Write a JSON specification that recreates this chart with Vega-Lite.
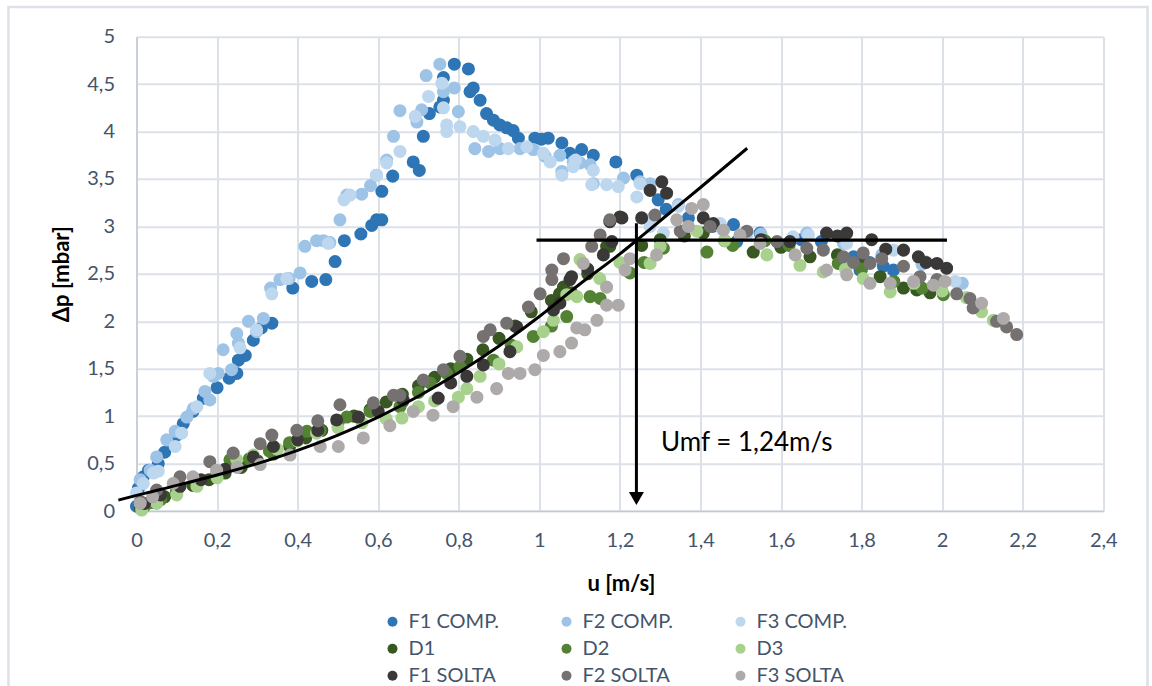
{
  "$schema": "https://vega.github.io/schema/vega-lite/v6.json",
  "width": 966.8,
  "height": 474.3,
  "autosize": {"type": "none"},
  "padding": {"left": 136.5, "top": 36.7, "right": 48.7, "bottom": 175},
  "background": "white",
  "config": {
    "view": {"stroke": null},
    "font": "Lato",
    "axis": {"labelFont": "Lato", "titleFont": "Lato"}
  },
  "datasets": {
    "one": [{}],
    "curve": [
      {"u": -0.045, "p": 0.115}, {"u": 0, "p": 0.165}, {"u": 0.1, "p": 0.27}, {"u": 0.2, "p": 0.38},
      {"u": 0.3, "p": 0.5}, {"u": 0.4, "p": 0.64}, {"u": 0.5, "p": 0.8}, {"u": 0.6, "p": 0.99},
      {"u": 0.7, "p": 1.21}, {"u": 0.8, "p": 1.46}, {"u": 0.9, "p": 1.74}, {"u": 1.0, "p": 2.05},
      {"u": 1.1, "p": 2.39}, {"u": 1.2, "p": 2.71}, {"u": 1.242, "p": 2.855}, {"u": 1.3, "p": 3.06},
      {"u": 1.4, "p": 3.41}, {"u": 1.516, "p": 3.824}
    ],
    "pts": [
      {"s":"F1 COMP.","u":0.0,"p":0.05},{"s":"F1 COMP.","u":0.005,"p":0.24},{"s":"F1 COMP.","u":0.017,"p":0.36},{"s":"F1 COMP.","u":0.03,"p":0.43},{"s":"F1 COMP.","u":0.054,"p":0.5},{"s":"F1 COMP.","u":0.07,"p":0.62},{"s":"F1 COMP.","u":0.087,"p":0.71},{"s":"F1 COMP.","u":0.1,"p":0.8},{"s":"F1 COMP.","u":0.116,"p":0.92},{"s":"F1 COMP.","u":0.14,"p":1.05},{"s":"F1 COMP.","u":0.166,"p":1.19},{"s":"F1 COMP.","u":0.2,"p":1.3},{"s":"F1 COMP.","u":0.23,"p":1.4},{"s":"F1 COMP.","u":0.249,"p":1.45},{"s":"F1 COMP.","u":0.253,"p":1.59},{"s":"F1 COMP.","u":0.27,"p":1.64},{"s":"F1 COMP.","u":0.29,"p":1.8},{"s":"F1 COMP.","u":0.31,"p":1.93},{"s":"F1 COMP.","u":0.336,"p":1.98},{"s":"F1 COMP.","u":0.388,"p":2.35},{"s":"F1 COMP.","u":0.435,"p":2.42},{"s":"F1 COMP.","u":0.47,"p":2.44},{"s":"F1 COMP.","u":0.493,"p":2.63},{"s":"F1 COMP.","u":0.516,"p":2.85},{"s":"F1 COMP.","u":0.557,"p":2.92},{"s":"F1 COMP.","u":0.584,"p":3.01},{"s":"F1 COMP.","u":0.596,"p":3.07},{"s":"F1 COMP.","u":0.609,"p":3.07},{"s":"F1 COMP.","u":0.609,"p":3.37},{"s":"F1 COMP.","u":0.636,"p":3.53},{"s":"F1 COMP.","u":0.687,"p":3.68},{"s":"F1 COMP.","u":0.702,"p":3.59},{"s":"F1 COMP.","u":0.712,"p":3.95},{"s":"F1 COMP.","u":0.727,"p":4.19},{"s":"F1 COMP.","u":0.753,"p":4.26},{"s":"F1 COMP.","u":0.762,"p":4.33},{"s":"F1 COMP.","u":0.762,"p":4.57},{"s":"F1 COMP.","u":0.789,"p":4.71},{"s":"F1 COMP.","u":0.824,"p":4.66},{"s":"F1 COMP.","u":0.828,"p":4.42},{"s":"F1 COMP.","u":0.836,"p":4.46},{"s":"F1 COMP.","u":0.853,"p":4.33},{"s":"F1 COMP.","u":0.869,"p":4.19},{"s":"F1 COMP.","u":0.886,"p":4.12},{"s":"F1 COMP.","u":0.902,"p":4.07},{"s":"F1 COMP.","u":0.919,"p":4.04},{"s":"F1 COMP.","u":0.935,"p":4.01},{"s":"F1 COMP.","u":0.948,"p":3.93},{"s":"F1 COMP.","u":0.989,"p":3.93},{"s":"F1 COMP.","u":1.005,"p":3.92},{"s":"F1 COMP.","u":1.022,"p":3.93},{"s":"F1 COMP.","u":1.056,"p":3.88},{"s":"F1 COMP.","u":1.076,"p":3.77},{"s":"F1 COMP.","u":1.105,"p":3.81},{"s":"F1 COMP.","u":1.134,"p":3.75},{"s":"F1 COMP.","u":1.19,"p":3.68},{"s":"F1 COMP.","u":1.242,"p":3.54},{"s":"F1 COMP.","u":1.295,"p":3.28},{"s":"F1 COMP.","u":1.315,"p":3.18},{"s":"F1 COMP.","u":1.37,"p":3.09},{"s":"F1 COMP.","u":1.43,"p":3.0},{"s":"F1 COMP.","u":1.482,"p":3.02},{"s":"F1 COMP.","u":1.49,"p":2.84},{"s":"F1 COMP.","u":1.548,"p":2.93},{"s":"F1 COMP.","u":1.598,"p":2.8},{"s":"F1 COMP.","u":1.65,"p":2.86},{"s":"F1 COMP.","u":1.7,"p":2.84},{"s":"F1 COMP.","u":1.78,"p":2.68},{"s":"F1 COMP.","u":1.796,"p":2.54},{"s":"F1 COMP.","u":1.82,"p":2.62},{"s":"F1 COMP.","u":1.854,"p":2.58},{"s":"F1 COMP.","u":1.879,"p":2.54},
      {"s":"F2 COMP.","u":0.009,"p":0.33},{"s":"F2 COMP.","u":0.034,"p":0.43},{"s":"F2 COMP.","u":0.05,"p":0.57},{"s":"F2 COMP.","u":0.075,"p":0.75},{"s":"F2 COMP.","u":0.096,"p":0.84},{"s":"F2 COMP.","u":0.125,"p":0.99},{"s":"F2 COMP.","u":0.141,"p":1.08},{"s":"F2 COMP.","u":0.17,"p":1.26},{"s":"F2 COMP.","u":0.182,"p":1.17},{"s":"F2 COMP.","u":0.191,"p":1.42},{"s":"F2 COMP.","u":0.203,"p":1.45},{"s":"F2 COMP.","u":0.215,"p":1.7},{"s":"F2 COMP.","u":0.236,"p":1.49},{"s":"F2 COMP.","u":0.249,"p":1.87},{"s":"F2 COMP.","u":0.253,"p":1.77},{"s":"F2 COMP.","u":0.278,"p":2.0},{"s":"F2 COMP.","u":0.298,"p":1.89},{"s":"F2 COMP.","u":0.315,"p":2.03},{"s":"F2 COMP.","u":0.333,"p":2.35},{"s":"F2 COMP.","u":0.356,"p":2.44},{"s":"F2 COMP.","u":0.379,"p":2.45},{"s":"F2 COMP.","u":0.406,"p":2.51},{"s":"F2 COMP.","u":0.418,"p":2.79},{"s":"F2 COMP.","u":0.447,"p":2.85},{"s":"F2 COMP.","u":0.464,"p":2.85},{"s":"F2 COMP.","u":0.48,"p":2.83},{"s":"F2 COMP.","u":0.505,"p":3.07},{"s":"F2 COMP.","u":0.522,"p":3.33},{"s":"F2 COMP.","u":0.559,"p":3.34},{"s":"F2 COMP.","u":0.581,"p":3.43},{"s":"F2 COMP.","u":0.596,"p":3.54},{"s":"F2 COMP.","u":0.621,"p":3.7},{"s":"F2 COMP.","u":0.638,"p":3.95},{"s":"F2 COMP.","u":0.654,"p":4.22},{"s":"F2 COMP.","u":0.696,"p":4.1},{"s":"F2 COMP.","u":0.708,"p":4.23},{"s":"F2 COMP.","u":0.719,"p":4.59},{"s":"F2 COMP.","u":0.753,"p":4.71},{"s":"F2 COMP.","u":0.762,"p":4.42},{"s":"F2 COMP.","u":0.789,"p":4.46},{"s":"F2 COMP.","u":0.799,"p":4.21},{"s":"F2 COMP.","u":0.84,"p":3.82},{"s":"F2 COMP.","u":0.874,"p":3.79},{"s":"F2 COMP.","u":0.902,"p":3.82},{"s":"F2 COMP.","u":0.952,"p":3.82},{"s":"F2 COMP.","u":0.985,"p":3.81},{"s":"F2 COMP.","u":1.014,"p":3.74},{"s":"F2 COMP.","u":1.051,"p":3.75},{"s":"F2 COMP.","u":1.056,"p":3.58},{"s":"F2 COMP.","u":1.084,"p":3.68},{"s":"F2 COMP.","u":1.101,"p":3.67},{"s":"F2 COMP.","u":1.126,"p":3.65},{"s":"F2 COMP.","u":1.134,"p":3.45},{"s":"F2 COMP.","u":1.209,"p":3.51},{"s":"F2 COMP.","u":1.25,"p":3.47},{"s":"F2 COMP.","u":1.275,"p":3.45},{"s":"F2 COMP.","u":1.345,"p":3.23},{"s":"F2 COMP.","u":1.45,"p":3.0},{"s":"F2 COMP.","u":1.55,"p":2.92},{"s":"F2 COMP.","u":1.664,"p":2.93},{"s":"F2 COMP.","u":1.755,"p":2.82},{"s":"F2 COMP.","u":1.85,"p":2.7},{"s":"F2 COMP.","u":1.95,"p":2.6},{"s":"F2 COMP.","u":2.05,"p":2.4},
      {"s":"F3 COMP.","u":0.0,"p":0.19},{"s":"F3 COMP.","u":0.017,"p":0.29},{"s":"F3 COMP.","u":0.042,"p":0.4},{"s":"F3 COMP.","u":0.054,"p":0.42},{"s":"F3 COMP.","u":0.096,"p":0.68},{"s":"F3 COMP.","u":0.112,"p":0.82},{"s":"F3 COMP.","u":0.15,"p":1.1},{"s":"F3 COMP.","u":0.182,"p":1.45},{"s":"F3 COMP.","u":0.257,"p":1.72},{"s":"F3 COMP.","u":0.298,"p":1.91},{"s":"F3 COMP.","u":0.336,"p":2.29},{"s":"F3 COMP.","u":0.373,"p":2.45},{"s":"F3 COMP.","u":0.476,"p":2.82},{"s":"F3 COMP.","u":0.515,"p":3.28},{"s":"F3 COMP.","u":0.53,"p":3.33},{"s":"F3 COMP.","u":0.596,"p":3.54},{"s":"F3 COMP.","u":0.621,"p":3.67},{"s":"F3 COMP.","u":0.654,"p":3.79},{"s":"F3 COMP.","u":0.692,"p":4.16},{"s":"F3 COMP.","u":0.725,"p":4.37},{"s":"F3 COMP.","u":0.758,"p":4.51},{"s":"F3 COMP.","u":0.762,"p":4.25},{"s":"F3 COMP.","u":0.77,"p":4.07},{"s":"F3 COMP.","u":0.77,"p":4.0},{"s":"F3 COMP.","u":0.803,"p":4.05},{"s":"F3 COMP.","u":0.836,"p":4.0},{"s":"F3 COMP.","u":0.861,"p":3.95},{"s":"F3 COMP.","u":0.89,"p":3.91},{"s":"F3 COMP.","u":0.923,"p":3.82},{"s":"F3 COMP.","u":0.969,"p":3.84},{"s":"F3 COMP.","u":1.01,"p":3.77},{"s":"F3 COMP.","u":1.027,"p":3.68},{"s":"F3 COMP.","u":1.056,"p":3.54},{"s":"F3 COMP.","u":1.084,"p":3.63},{"s":"F3 COMP.","u":1.09,"p":3.7},{"s":"F3 COMP.","u":1.13,"p":3.44},{"s":"F3 COMP.","u":1.134,"p":3.59},{"s":"F3 COMP.","u":1.167,"p":3.44},{"s":"F3 COMP.","u":1.196,"p":3.42},{"s":"F3 COMP.","u":1.242,"p":3.31},{"s":"F3 COMP.","u":1.25,"p":3.45},{"s":"F3 COMP.","u":1.271,"p":3.07},{"s":"F3 COMP.","u":1.275,"p":3.0},{"s":"F3 COMP.","u":1.308,"p":2.93},{"s":"F3 COMP.","u":1.345,"p":3.21},{"s":"F3 COMP.","u":1.449,"p":3.03},{"s":"F3 COMP.","u":1.515,"p":2.91},{"s":"F3 COMP.","u":1.63,"p":2.89},{"s":"F3 COMP.","u":1.668,"p":2.91},{"s":"F3 COMP.","u":1.763,"p":2.82},{"s":"F3 COMP.","u":1.879,"p":2.75},{"s":"F3 COMP.","u":1.958,"p":2.63},{"s":"F3 COMP.","u":2.032,"p":2.42},
      {"s":"D1","u":0.01,"p":0.03},{"s":"D1","u":0.04,"p":0.09},{"s":"D1","u":0.07,"p":0.15},{"s":"D1","u":0.1,"p":0.2},{"s":"D1","u":0.14,"p":0.27},{"s":"D1","u":0.18,"p":0.33},{"s":"D1","u":0.22,"p":0.4},{"s":"D1","u":0.26,"p":0.46},{"s":"D1","u":0.3,"p":0.53},{"s":"D1","u":0.34,"p":0.6},{"s":"D1","u":0.38,"p":0.68},{"s":"D1","u":0.42,"p":0.77},{"s":"D1","u":0.46,"p":0.85},{"s":"D1","u":0.5,"p":0.93},{"s":"D1","u":0.54,"p":1.0},{"s":"D1","u":0.58,"p":1.07},{"s":"D1","u":0.62,"p":1.15},{"s":"D1","u":0.66,"p":1.23},{"s":"D1","u":0.7,"p":1.32},{"s":"D1","u":0.74,"p":1.41},{"s":"D1","u":0.78,"p":1.5},{"s":"D1","u":0.82,"p":1.6},{"s":"D1","u":0.86,"p":1.7},{"s":"D1","u":0.9,"p":1.82},{"s":"D1","u":0.94,"p":1.95},{"s":"D1","u":0.98,"p":2.1},{"s":"D1","u":1.03,"p":2.22},{"s":"D1","u":1.05,"p":2.29},{"s":"D1","u":1.06,"p":2.36},{"s":"D1","u":1.08,"p":2.3},{"s":"D1","u":1.12,"p":2.5},{"s":"D1","u":1.167,"p":2.79},{"s":"D1","u":1.175,"p":2.79},{"s":"D1","u":1.254,"p":2.8},{"s":"D1","u":1.3,"p":2.86},{"s":"D1","u":1.36,"p":2.9},{"s":"D1","u":1.407,"p":2.93},{"s":"D1","u":1.46,"p":2.85},{"s":"D1","u":1.531,"p":2.73},{"s":"D1","u":1.6,"p":2.78},{"s":"D1","u":1.672,"p":2.68},{"s":"D1","u":1.74,"p":2.7},{"s":"D1","u":1.8,"p":2.6},{"s":"D1","u":1.846,"p":2.47},{"s":"D1","u":1.904,"p":2.35},{"s":"D1","u":1.937,"p":2.33},{"s":"D1","u":1.97,"p":2.3},
      {"s":"D2","u":0.02,"p":0.05},{"s":"D2","u":0.06,"p":0.12},{"s":"D2","u":0.1,"p":0.22},{"s":"D2","u":0.15,"p":0.3},{"s":"D2","u":0.2,"p":0.4},{"s":"D2","u":0.232,"p":0.54},{"s":"D2","u":0.28,"p":0.55},{"s":"D2","u":0.33,"p":0.63},{"s":"D2","u":0.38,"p":0.72},{"s":"D2","u":0.423,"p":0.84},{"s":"D2","u":0.456,"p":0.85},{"s":"D2","u":0.5,"p":0.93},{"s":"D2","u":0.522,"p":0.99},{"s":"D2","u":0.58,"p":1.05},{"s":"D2","u":0.654,"p":1.1},{"s":"D2","u":0.66,"p":1.15},{"s":"D2","u":0.7,"p":1.25},{"s":"D2","u":0.729,"p":1.35},{"s":"D2","u":0.77,"p":1.45},{"s":"D2","u":0.803,"p":1.52},{"s":"D2","u":0.886,"p":1.59},{"s":"D2","u":0.93,"p":1.75},{"s":"D2","u":0.985,"p":1.84},{"s":"D2","u":1.03,"p":1.95},{"s":"D2","u":1.068,"p":2.05},{"s":"D2","u":1.126,"p":2.26},{"s":"D2","u":1.151,"p":2.24},{"s":"D2","u":1.225,"p":2.51},{"s":"D2","u":1.26,"p":2.62},{"s":"D2","u":1.308,"p":2.77},{"s":"D2","u":1.416,"p":2.73},{"s":"D2","u":1.48,"p":2.8},{"s":"D2","u":1.56,"p":2.85},{"s":"D2","u":1.62,"p":2.8},{"s":"D2","u":1.742,"p":2.61},{"s":"D2","u":1.8,"p":2.55},{"s":"D2","u":1.88,"p":2.42},{"s":"D2","u":1.95,"p":2.35},{"s":"D2","u":2.003,"p":2.28},
      {"s":"D3","u":0.013,"p":0.01},{"s":"D3","u":0.05,"p":0.08},{"s":"D3","u":0.1,"p":0.17},{"s":"D3","u":0.15,"p":0.26},{"s":"D3","u":0.2,"p":0.35},{"s":"D3","u":0.249,"p":0.54},{"s":"D3","u":0.29,"p":0.59},{"s":"D3","u":0.35,"p":0.65},{"s":"D3","u":0.4,"p":0.74},{"s":"D3","u":0.447,"p":0.82},{"s":"D3","u":0.5,"p":0.88},{"s":"D3","u":0.56,"p":0.93},{"s":"D3","u":0.62,"p":0.97},{"s":"D3","u":0.659,"p":0.98},{"s":"D3","u":0.7,"p":1.1},{"s":"D3","u":0.74,"p":1.16},{"s":"D3","u":0.799,"p":1.2},{"s":"D3","u":0.82,"p":1.29},{"s":"D3","u":0.853,"p":1.42},{"s":"D3","u":0.9,"p":1.55},{"s":"D3","u":0.944,"p":1.73},{"s":"D3","u":1.01,"p":1.89},{"s":"D3","u":1.035,"p":2.01},{"s":"D3","u":1.068,"p":2.28},{"s":"D3","u":1.093,"p":2.26},{"s":"D3","u":1.101,"p":2.65},{"s":"D3","u":1.15,"p":2.45},{"s":"D3","u":1.2,"p":2.62},{"s":"D3","u":1.275,"p":2.61},{"s":"D3","u":1.3,"p":2.79},{"s":"D3","u":1.391,"p":2.95},{"s":"D3","u":1.46,"p":2.85},{"s":"D3","u":1.565,"p":2.7},{"s":"D3","u":1.647,"p":2.59},{"s":"D3","u":1.705,"p":2.52},{"s":"D3","u":1.76,"p":2.55},{"s":"D3","u":1.804,"p":2.45},{"s":"D3","u":1.871,"p":2.31},{"s":"D3","u":1.93,"p":2.4},{"s":"D3","u":2.0,"p":2.32},{"s":"D3","u":2.06,"p":2.25},{"s":"D3","u":2.098,"p":2.1},{"s":"D3","u":2.127,"p":2.01},
      {"s":"F1 SOLTA","u":0.02,"p":0.08},{"s":"F1 SOLTA","u":0.06,"p":0.17},{"s":"F1 SOLTA","u":0.108,"p":0.26},{"s":"F1 SOLTA","u":0.16,"p":0.33},{"s":"F1 SOLTA","u":0.22,"p":0.44},{"s":"F1 SOLTA","u":0.29,"p":0.57},{"s":"F1 SOLTA","u":0.34,"p":0.68},{"s":"F1 SOLTA","u":0.4,"p":0.75},{"s":"F1 SOLTA","u":0.45,"p":0.85},{"s":"F1 SOLTA","u":0.497,"p":0.96},{"s":"F1 SOLTA","u":0.551,"p":0.99},{"s":"F1 SOLTA","u":0.6,"p":1.05},{"s":"F1 SOLTA","u":0.662,"p":1.17},{"s":"F1 SOLTA","u":0.749,"p":1.19},{"s":"F1 SOLTA","u":0.78,"p":1.35},{"s":"F1 SOLTA","u":0.82,"p":1.42},{"s":"F1 SOLTA","u":0.861,"p":1.54},{"s":"F1 SOLTA","u":0.927,"p":1.68},{"s":"F1 SOLTA","u":0.944,"p":1.94},{"s":"F1 SOLTA","u":1.035,"p":2.12},{"s":"F1 SOLTA","u":1.051,"p":2.19},{"s":"F1 SOLTA","u":1.076,"p":2.44},{"s":"F1 SOLTA","u":1.08,"p":2.47},{"s":"F1 SOLTA","u":1.12,"p":2.55},{"s":"F1 SOLTA","u":1.159,"p":2.7},{"s":"F1 SOLTA","u":1.18,"p":2.84},{"s":"F1 SOLTA","u":1.175,"p":3.05},{"s":"F1 SOLTA","u":1.2,"p":3.1},{"s":"F1 SOLTA","u":1.205,"p":3.09},{"s":"F1 SOLTA","u":1.254,"p":3.09},{"s":"F1 SOLTA","u":1.275,"p":3.38},{"s":"F1 SOLTA","u":1.304,"p":3.47},{"s":"F1 SOLTA","u":1.316,"p":3.35},{"s":"F1 SOLTA","u":1.407,"p":3.09},{"s":"F1 SOLTA","u":1.432,"p":3.03},{"s":"F1 SOLTA","u":1.55,"p":2.86},{"s":"F1 SOLTA","u":1.622,"p":2.84},{"s":"F1 SOLTA","u":1.713,"p":2.93},{"s":"F1 SOLTA","u":1.74,"p":2.9},{"s":"F1 SOLTA","u":1.763,"p":2.93},{"s":"F1 SOLTA","u":1.825,"p":2.86},{"s":"F1 SOLTA","u":1.86,"p":2.76},{"s":"F1 SOLTA","u":1.904,"p":2.75},{"s":"F1 SOLTA","u":1.941,"p":2.68},{"s":"F1 SOLTA","u":1.96,"p":2.62},{"s":"F1 SOLTA","u":1.987,"p":2.61},{"s":"F1 SOLTA","u":2.011,"p":2.56},
      {"s":"F2 SOLTA","u":0.01,"p":0.1},{"s":"F2 SOLTA","u":0.05,"p":0.22},{"s":"F2 SOLTA","u":0.108,"p":0.36},{"s":"F2 SOLTA","u":0.182,"p":0.52},{"s":"F2 SOLTA","u":0.24,"p":0.61},{"s":"F2 SOLTA","u":0.307,"p":0.71},{"s":"F2 SOLTA","u":0.336,"p":0.8},{"s":"F2 SOLTA","u":0.398,"p":0.85},{"s":"F2 SOLTA","u":0.45,"p":0.95},{"s":"F2 SOLTA","u":0.505,"p":1.12},{"s":"F2 SOLTA","u":0.588,"p":1.14},{"s":"F2 SOLTA","u":0.638,"p":1.22},{"s":"F2 SOLTA","u":0.654,"p":1.22},{"s":"F2 SOLTA","u":0.712,"p":1.38},{"s":"F2 SOLTA","u":0.762,"p":1.49},{"s":"F2 SOLTA","u":0.803,"p":1.63},{"s":"F2 SOLTA","u":0.861,"p":1.84},{"s":"F2 SOLTA","u":0.878,"p":1.91},{"s":"F2 SOLTA","u":0.919,"p":1.98},{"s":"F2 SOLTA","u":0.973,"p":2.15},{"s":"F2 SOLTA","u":1.002,"p":2.29},{"s":"F2 SOLTA","u":1.031,"p":2.44},{"s":"F2 SOLTA","u":1.031,"p":2.54},{"s":"F2 SOLTA","u":1.06,"p":2.66},{"s":"F2 SOLTA","u":1.13,"p":2.79},{"s":"F2 SOLTA","u":1.151,"p":2.91},{"s":"F2 SOLTA","u":1.175,"p":3.07},{"s":"F2 SOLTA","u":1.287,"p":3.12},{"s":"F2 SOLTA","u":1.35,"p":2.95},{"s":"F2 SOLTA","u":1.424,"p":3.0},{"s":"F2 SOLTA","u":1.515,"p":2.95},{"s":"F2 SOLTA","u":1.59,"p":2.84},{"s":"F2 SOLTA","u":1.664,"p":2.77},{"s":"F2 SOLTA","u":1.705,"p":2.75},{"s":"F2 SOLTA","u":1.755,"p":2.68},{"s":"F2 SOLTA","u":1.78,"p":2.62},{"s":"F2 SOLTA","u":1.804,"p":2.72},{"s":"F2 SOLTA","u":1.821,"p":2.61},{"s":"F2 SOLTA","u":1.85,"p":2.66},{"s":"F2 SOLTA","u":1.904,"p":2.58},{"s":"F2 SOLTA","u":1.945,"p":2.47},{"s":"F2 SOLTA","u":1.987,"p":2.44},{"s":"F2 SOLTA","u":2.036,"p":2.29},{"s":"F2 SOLTA","u":2.069,"p":2.24},{"s":"F2 SOLTA","u":2.077,"p":2.14},{"s":"F2 SOLTA","u":2.135,"p":2.0},{"s":"F2 SOLTA","u":2.16,"p":1.94},{"s":"F2 SOLTA","u":2.185,"p":1.86},
      {"s":"F3 SOLTA","u":0.009,"p":0.08},{"s":"F3 SOLTA","u":0.04,"p":0.15},{"s":"F3 SOLTA","u":0.091,"p":0.29},{"s":"F3 SOLTA","u":0.14,"p":0.36},{"s":"F3 SOLTA","u":0.199,"p":0.43},{"s":"F3 SOLTA","u":0.25,"p":0.46},{"s":"F3 SOLTA","u":0.307,"p":0.49},{"s":"F3 SOLTA","u":0.381,"p":0.59},{"s":"F3 SOLTA","u":0.456,"p":0.68},{"s":"F3 SOLTA","u":0.501,"p":0.68},{"s":"F3 SOLTA","u":0.563,"p":0.77},{"s":"F3 SOLTA","u":0.629,"p":0.9},{"s":"F3 SOLTA","u":0.687,"p":1.05},{"s":"F3 SOLTA","u":0.736,"p":1.01},{"s":"F3 SOLTA","u":0.786,"p":1.1},{"s":"F3 SOLTA","u":0.845,"p":1.2},{"s":"F3 SOLTA","u":0.894,"p":1.29},{"s":"F3 SOLTA","u":0.923,"p":1.45},{"s":"F3 SOLTA","u":0.952,"p":1.45},{"s":"F3 SOLTA","u":0.989,"p":1.49},{"s":"F3 SOLTA","u":1.01,"p":1.64},{"s":"F3 SOLTA","u":1.051,"p":1.68},{"s":"F3 SOLTA","u":1.08,"p":1.77},{"s":"F3 SOLTA","u":1.093,"p":1.93},{"s":"F3 SOLTA","u":1.113,"p":1.91},{"s":"F3 SOLTA","u":1.143,"p":2.01},{"s":"F3 SOLTA","u":1.167,"p":2.17},{"s":"F3 SOLTA","u":1.196,"p":2.17},{"s":"F3 SOLTA","u":1.167,"p":2.36},{"s":"F3 SOLTA","u":1.109,"p":2.61},{"s":"F3 SOLTA","u":1.213,"p":2.54},{"s":"F3 SOLTA","u":1.225,"p":2.66},{"s":"F3 SOLTA","u":1.291,"p":2.7},{"s":"F3 SOLTA","u":1.341,"p":3.07},{"s":"F3 SOLTA","u":1.37,"p":3.0},{"s":"F3 SOLTA","u":1.378,"p":3.19},{"s":"F3 SOLTA","u":1.407,"p":3.23},{"s":"F3 SOLTA","u":1.457,"p":2.96},{"s":"F3 SOLTA","u":1.498,"p":2.91},{"s":"F3 SOLTA","u":1.548,"p":2.82},{"s":"F3 SOLTA","u":1.635,"p":2.7},{"s":"F3 SOLTA","u":1.713,"p":2.54},{"s":"F3 SOLTA","u":1.763,"p":2.49},{"s":"F3 SOLTA","u":1.821,"p":2.4},{"s":"F3 SOLTA","u":1.871,"p":2.4},{"s":"F3 SOLTA","u":1.929,"p":2.42},{"s":"F3 SOLTA","u":1.978,"p":2.38},{"s":"F3 SOLTA","u":2.007,"p":2.42},{"s":"F3 SOLTA","u":2.098,"p":2.19},{"s":"F3 SOLTA","u":2.152,"p":2.03}
    ]
  },
  "layer": [
    {
      "data": {"name": "one"},
      "mark": {"type": "rect", "fillOpacity": 0, "stroke": "#DEE2E8", "strokeWidth": 2.6},
      "encoding": {
        "x": {"datum": -0.3178, "type": "quantitative"},
        "x2": {"datum": 2.5098},
        "y": {"datum": 5.313, "type": "quantitative"},
        "y2": {"datum": -2.2}
      }
    },
    {
      "data": {"name": "pts"},
      "mark": {"type": "point", "filled": true, "shape": "circle", "size": 170, "opacity": 1, "strokeWidth": 0},
      "encoding": {
        "x": {
          "field": "u", "type": "quantitative",
          "scale": {"domain": [0, 2.4], "nice": false, "zero": false},
          "axis": {
            "values": [0, 0.2, 0.4, 0.6, 0.8, 1, 1.2, 1.4, 1.6, 1.8, 2, 2.2, 2.4],
            "labelExpr": "replace(format(datum.value, '~g'), '.', ',')",
            "title": "u [m/s]",
            "titleFontSize": 22, "titleFontWeight": "bold", "titleColor": "#000000",
            "titleX": 484.5, "titleY": 72, "titleBaseline": "middle", "titleAlign": "center",
            "labelFontSize": 20, "labelColor": "#44546A", "labelPadding": 19,
            "labelFlush": false, "labelOverlap": false, "labelBound": false,
            "ticks": false,
            "grid": true, "gridColor": "#DCE1E8", "gridWidth": 2,
            "domain": true, "domainColor": "#C3C9D2", "domainWidth": 1.5
          }
        },
        "y": {
          "field": "p", "type": "quantitative",
          "scale": {"domain": [0, 5], "nice": false, "zero": false},
          "axis": {
            "values": [0, 0.5, 1, 1.5, 2, 2.5, 3, 3.5, 4, 4.5, 5],
            "labelExpr": "replace(format(datum.value, '~g'), '.', ',')",
            "title": "Δp [mbar]",
            "titleFontSize": 22, "titleFontWeight": "bold", "titleColor": "#000000",
            "titleX": -75, "titleY": 237, "titleAngle": -90, "titleBaseline": "middle", "titleAlign": "center",
            "labelFontSize": 20, "labelColor": "#44546A", "labelPadding": 22,
            "labelFlush": false, "labelOverlap": false, "labelBound": false,
            "ticks": false,
            "grid": true, "gridColor": "#DCE1E8", "gridWidth": 2,
            "domain": true, "domainColor": "#C3C9D2", "domainWidth": 1.5
          }
        },
        "color": {
          "field": "s", "type": "nominal",
          "scale": {
            "domain": ["F1 COMP.", "F2 COMP.", "F3 COMP.", "D1", "D2", "D3", "F1 SOLTA", "F2 SOLTA", "F3 SOLTA"],
            "range": ["#2E75B6", "#9DC3E6", "#BDD7EE", "#385723", "#548235", "#A9D18E", "#3B3838", "#767171", "#AEAAAA"]
          },
          "legend": {
            "title": null, "orient": "none", "legendX": 246, "legendY": 575,
            "direction": "horizontal",
            "columns": 3, "columnPadding": 57, "rowPadding": 7,
            "symbolType": "circle", "symbolSize": 100, "symbolStrokeWidth": 0,
            "labelFont": "Lato", "labelFontSize": 20, "labelColor": "#44546A", "labelOffset": 6, "labelLimit": 200
          }
        }
      }
    },
    {
      "data": {"name": "curve"},
      "mark": {"type": "line", "color": "#000000", "strokeWidth": 3, "interpolate": "monotone"},
      "encoding": {
        "x": {"field": "u", "type": "quantitative"},
        "y": {"field": "p", "type": "quantitative"}
      }
    },
    {
      "data": {"name": "one"},
      "mark": {"type": "rule", "color": "#000000", "strokeWidth": 3.2},
      "encoding": {
        "x": {"datum": 0.993, "type": "quantitative"},
        "x2": {"datum": 2.012},
        "y": {"datum": 2.855, "type": "quantitative"}
      }
    },
    {
      "data": {"name": "one"},
      "mark": {"type": "rule", "color": "#000000", "strokeWidth": 3},
      "encoding": {
        "x": {"datum": 1.241, "type": "quantitative"},
        "y": {"datum": 3.033, "type": "quantitative"},
        "y2": {"datum": 0.2}
      }
    },
    {
      "data": {"name": "one"},
      "mark": {"type": "point", "shape": "triangle-down", "filled": true, "color": "#000000", "size": 225, "opacity": 1},
      "encoding": {
        "x": {"datum": 1.241, "type": "quantitative"},
        "y": {"datum": 0.132, "type": "quantitative"}
      }
    },
    {
      "data": {"name": "one"},
      "mark": {"type": "text", "text": "Umf = 1,24m/s", "font": "Lato", "fontSize": 26, "color": "#000000", "align": "left", "baseline": "middle"},
      "encoding": {
        "x": {"datum": 1.302, "type": "quantitative"},
        "y": {"datum": 0.717, "type": "quantitative"}
      }
    }
  ]
}
